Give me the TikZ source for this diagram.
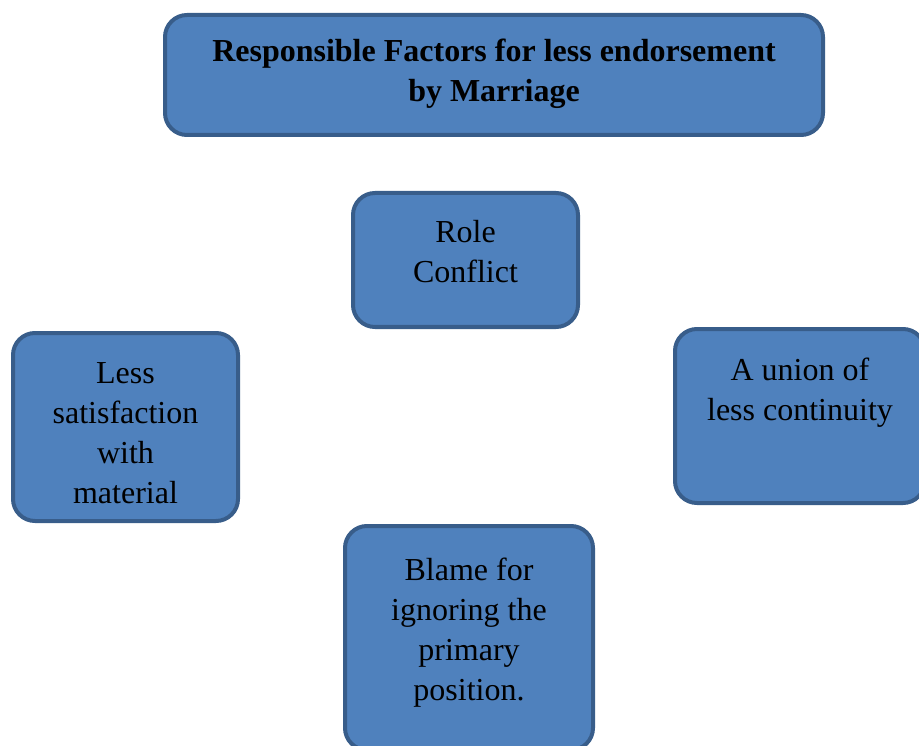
\documentclass[tikz,border=0pt]{standalone}
\usepackage{fontspec}
\setmainfont{Liberation Serif}
\definecolor{boxfill}{HTML}{4F81BD}
\definecolor{boxline}{HTML}{385D8A}
\begin{document}
\begin{tikzpicture}[x=1pt, y=-1pt,
  panel/.style={draw=boxline, fill=boxfill, line width=4pt, rounded corners=22pt,
    inner sep=0pt, outer sep=0pt},
  label/.style={anchor=north, inner sep=0pt, align=center, text=black,
    font=\fontsize{32}{40}\selectfont},
  titlelabel/.style={label, font=\fontsize{32}{40}\selectfont\bfseries}]
  % canvas
  \useasboundingbox (0,0) rectangle (919,746);
  \begin{scope}
    \clip (0,0) rectangle (919,746);
    % boxes
    \node[panel, minimum width=658pt, minimum height=120pt] (title) at (494,75) {};
    \node[panel, minimum width=225pt, minimum height=134pt] (role) at (465.5,260) {};
    \node[panel, minimum width=225pt, minimum height=188pt] (less) at (125.5,427) {};
    \node[panel, minimum width=250pt, minimum height=174pt] (union) at (800,416) {};
    \node[panel, minimum width=248pt, minimum height=224pt] (blame) at (469,638) {};
  \end{scope}
  % texts
  \node[titlelabel] (titletext) at (494,39) {Responsible Factors for less endorsement\\by Marriage};
  \node[label] (roletext) at (465.5,220) {Role\\Conflict};
  \node[label] (lesstext) at (125.5,362.5) {Less\\satisfaction\\with\\material};
  \node[label] (uniontext) at (800,358) {A union of\\less continuity};
  \node[label] (blametext) at (469,557.5) {Blame for\\ignoring the\\primary\\position.};
\end{tikzpicture}
\end{document}
